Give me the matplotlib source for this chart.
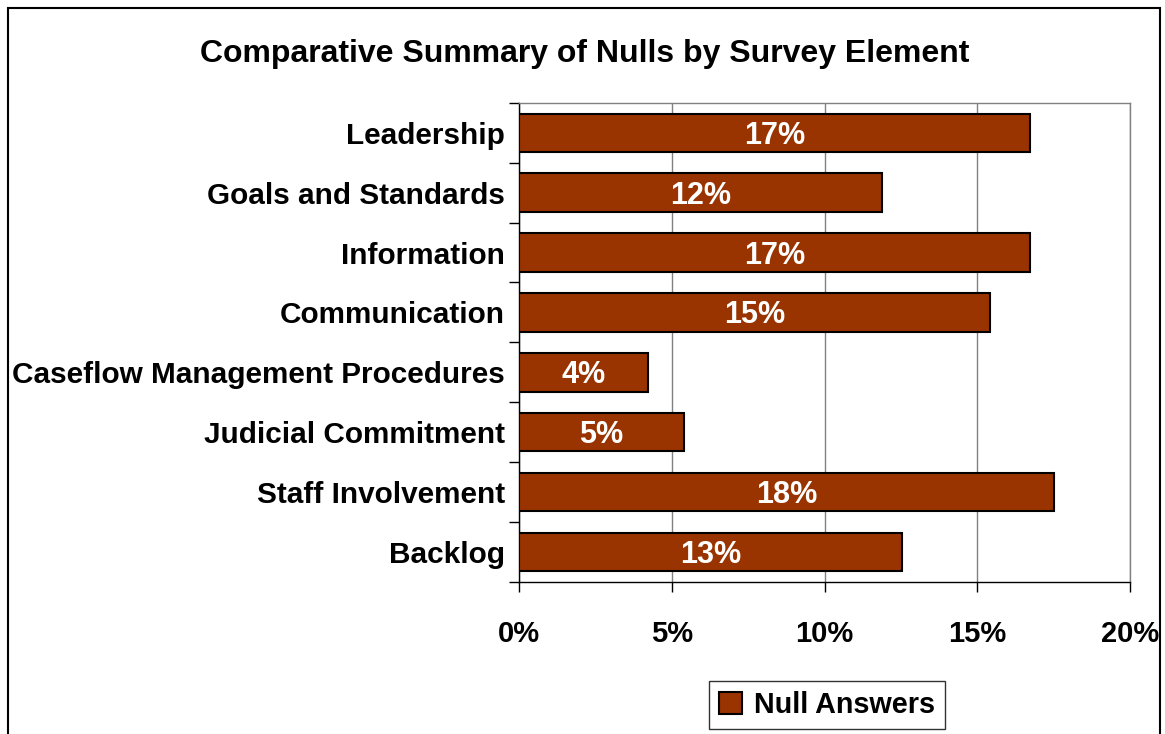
import numpy as np
import matplotlib.pyplot as plt
from matplotlib.patches import Rectangle, Patch

categories = ["Leadership", "Goals and Standards", "Information", "Communication",
              "Caseflow Management Procedures", "Judicial Commitment",
              "Staff Involvement", "Backlog"]
null_pct = [16.74, 11.87, 16.74, 15.41, 4.21, 5.39, 17.52, 12.53]
xticks = [0, 5, 10, 15, 20]

plt.rcParams['font.family'] = ['Liberation Sans', 'DejaVu Sans']
plt.rcParams['font.weight'] = 'bold'

BAR_COLOR = "#993300"

fig = plt.figure(figsize=(11.65, 7.34), dpi=100)
ax = fig.add_axes([0.4455, 0.207, 0.5245, 0.653])

y = np.arange(len(categories))
bars = ax.barh(y, null_pct, height=0.64, color=BAR_COLOR, edgecolor="black",
               linewidth=1.5, label="Null Answers", zorder=3)

# value labels, nudged a little below centre so the digits sit mid-bar
for yi, v in zip(y, null_pct):
    ax.text(v / 2, yi + 0.05, f"{v:.0f}%", ha="center", va="center", color="white",
            fontsize=22, fontweight="bold", zorder=4)

ax.set_ylim(len(categories) - 0.5, -0.5)
ax.set_xlim(0, 20)

ax.set_yticks(y)
ax.set_yticklabels(categories, fontsize=21.4, fontweight="bold")
ax.tick_params(axis="y", which="major", length=0, pad=10)
ax.set_yticks(np.arange(-0.5, len(categories)), minor=True)
ax.tick_params(axis="y", which="minor", length=7, width=1, direction="out")

ax.set_xticks(xticks)
ax.set_xticklabels([f"{t}%" for t in xticks], fontsize=21, fontweight="bold")
ax.tick_params(axis="x", length=7, width=1, direction="out", pad=20)

ax.grid(axis="x", color="#808080", linewidth=1, zorder=0)
for side in ("top", "right"):
    ax.spines[side].set_color("#808080")
    ax.spines[side].set_linewidth(1)
for side in ("left", "bottom"):
    ax.spines[side].set_color("black")
    ax.spines[side].set_linewidth(1)

fig.text(0.502, 0.927, "Comparative Summary of Nulls by Survey Element",
         ha="center", va="center", fontsize=23, fontweight="bold")

fig.legend(handles=[Patch(facecolor=BAR_COLOR, edgecolor="black", linewidth=1.5)],
           labels=["Null Answers"], loc="center", bbox_to_anchor=(0.710, 0.040),
           fontsize=20.7, frameon=True, fancybox=False, edgecolor="black",
           handlelength=0.8, handleheight=0.8, handletextpad=0.4,
           borderpad=0.35, borderaxespad=0)

# outer chart frame, open at the bottom
fig.add_artist(Rectangle((0.007, -0.05), 0.989, 1.039, transform=fig.transFigure,
                         fill=False, edgecolor="black", linewidth=1.5))

fig.savefig("out.png", dpi=100)
